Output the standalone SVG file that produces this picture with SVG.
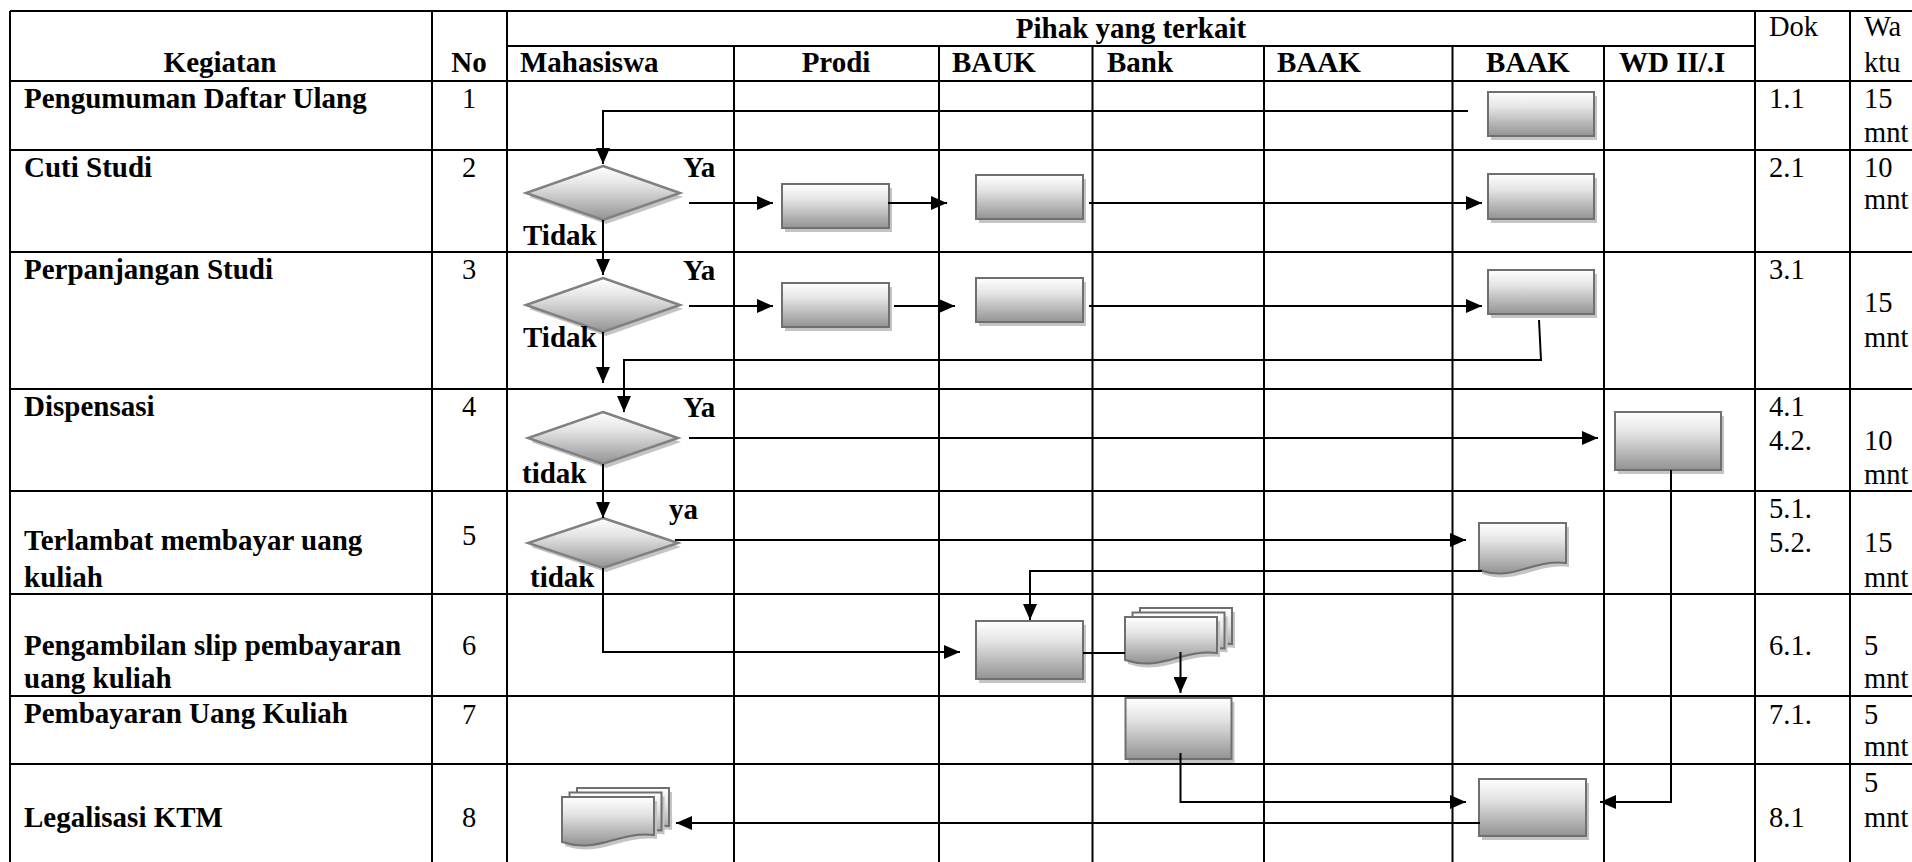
<svg xmlns="http://www.w3.org/2000/svg" width="1912" height="862" viewBox="0 0 1912 862">
  <style>
    .grid line { stroke: #000; stroke-width: 2; }
    .conn path { fill: none; stroke: #000; stroke-width: 2; }
    .arr { marker-end: url(#ah); }
    .box { fill: url(#shade); stroke: #6f6f6f; stroke-width: 2; }
    .dia { fill: url(#shade); stroke: #808080; stroke-width: 2.5; }
    .shd { fill: #c4c4c4; }
    text { font-family: "Liberation Serif", "Times New Roman", serif; fill: #000; }
    .b { font-weight: bold; font-size: 29px; }
    .r { font-size: 28.5px; }
    .c { text-anchor: middle; }
  </style>
  <defs>
    <linearGradient id="shade" x1="0" y1="0" x2="0" y2="1">
      <stop offset="0" stop-color="#ffffff"/>
      <stop offset="0.35" stop-color="#e4e4e4"/>
      <stop offset="1" stop-color="#939393"/>
    </linearGradient>
    <marker id="ah" markerUnits="userSpaceOnUse" viewBox="0 0 16 14" markerWidth="16" markerHeight="14" refX="16" refY="7" orient="auto">
      <path d="M0,0 L16,7 L0,14 Z" fill="#000"/>
    </marker>
  </defs>
  <rect width="1912" height="862" fill="#fff"/>

  <!-- table grid -->
  <g id="grid" class="grid">
    <line x1="10" y1="11" x2="1912" y2="11"/>
    <line x1="507" y1="46" x2="1755" y2="46"/>
    <line x1="10" y1="81" x2="1912" y2="81"/>
    <line x1="10" y1="150" x2="1912" y2="150"/>
    <line x1="10" y1="252" x2="1912" y2="252"/>
    <line x1="10" y1="389" x2="1912" y2="389"/>
    <line x1="10" y1="491" x2="1912" y2="491"/>
    <line x1="10" y1="594" x2="1912" y2="594"/>
    <line x1="10" y1="696" x2="1912" y2="696"/>
    <line x1="10" y1="764" x2="1912" y2="764"/>
    <line x1="10" y1="11" x2="10" y2="862"/>
    <line x1="432" y1="11" x2="432" y2="862"/>
    <line x1="507" y1="11" x2="507" y2="862"/>
    <line x1="734" y1="46" x2="734" y2="862"/>
    <line x1="939" y1="46" x2="939" y2="862"/>
    <line x1="1092.5" y1="46" x2="1092.5" y2="862"/>
    <line x1="1264" y1="46" x2="1264" y2="862"/>
    <line x1="1452.5" y1="46" x2="1452.5" y2="862"/>
    <line x1="1604" y1="46" x2="1604" y2="862"/>
    <line x1="1755" y1="11" x2="1755" y2="862"/>
    <line x1="1850" y1="11" x2="1850" y2="862"/>
  </g>

  <!-- table headings -->
  <g id="headings">
    <text class="b c" x="220" y="72">Kegiatan</text>
    <text class="b c" x="469" y="72">No</text>
    <text class="b c" x="1131" y="38">Pihak yang terkait</text>
    <text class="b" x="520" y="72">Mahasiswa</text>
    <text class="b c" x="836" y="72">Prodi</text>
    <text class="b" x="952" y="72">BAUK</text>
    <text class="b" x="1107" y="72">Bank</text>
    <text class="b" x="1277" y="72">BAAK</text>
    <text class="b c" x="1528" y="72">BAAK</text>
    <text class="b" x="1619" y="72">WD II/.I</text>
    <text class="r" x="1769" y="36">Dok</text>
    <text class="r" x="1864" y="36">Wa</text>
    <text class="r" x="1864" y="72">ktu</text>
  </g>

  <!-- activities and numbers -->
  <g id="activities">
    <text class="b" x="24" y="108">Pengumuman Daftar Ulang</text>
    <text class="b" x="24" y="177">Cuti Studi</text>
    <text class="b" x="24" y="279">Perpanjangan Studi</text>
    <text class="b" x="24" y="416">Dispensasi</text>
    <text class="b" x="24" y="550">Terlambat membayar uang</text>
    <text class="b" x="24" y="587">kuliah</text>
    <text class="b" x="24" y="655">Pengambilan slip pembayaran</text>
    <text class="b" x="24" y="688">uang kuliah</text>
    <text class="b" x="24" y="723">Pembayaran Uang Kuliah</text>
    <text class="b" x="24" y="827">Legalisasi KTM</text>
    <text class="r c" x="469" y="108">1</text>
    <text class="r c" x="469" y="177">2</text>
    <text class="r c" x="469" y="279">3</text>
    <text class="r c" x="469" y="416">4</text>
    <text class="r c" x="469" y="545">5</text>
    <text class="r c" x="469" y="655">6</text>
    <text class="r c" x="469" y="724">7</text>
    <text class="r c" x="469" y="827">8</text>
  </g>

  <!-- document and time columns -->
  <g id="documents">
    <text class="r" x="1769" y="108">1.1</text>
    <text class="r" x="1769" y="177">2.1</text>
    <text class="r" x="1769" y="279">3.1</text>
    <text class="r" x="1769" y="416">4.1</text>
    <text class="r" x="1769" y="450">4.2.</text>
    <text class="r" x="1769" y="518">5.1.</text>
    <text class="r" x="1769" y="552">5.2.</text>
    <text class="r" x="1769" y="655">6.1.</text>
    <text class="r" x="1769" y="724">7.1.</text>
    <text class="r" x="1769" y="827">8.1</text>
    <text class="r" x="1864" y="108">15</text>
    <text class="r" x="1864" y="142">mnt</text>
    <text class="r" x="1864" y="177">10</text>
    <text class="r" x="1864" y="209">mnt</text>
    <text class="r" x="1864" y="312">15</text>
    <text class="r" x="1864" y="347">mnt</text>
    <text class="r" x="1864" y="450">10</text>
    <text class="r" x="1864" y="484">mnt</text>
    <text class="r" x="1864" y="552">15</text>
    <text class="r" x="1864" y="587">mnt</text>
    <text class="r" x="1864" y="655">5</text>
    <text class="r" x="1864" y="688">mnt</text>
    <text class="r" x="1864" y="724">5</text>
    <text class="r" x="1864" y="756">mnt</text>
    <text class="r" x="1864" y="792">5</text>
    <text class="r" x="1864" y="827">mnt</text>
  </g>

  <!-- flow nodes -->
  <g id="n-baak-1">
    <rect class="shd" x="1491" y="96" width="106" height="44"/>
    <rect class="box" x="1488" y="92" width="106" height="44"/>
  </g>
  <g id="d-cuti">
    <polygon class="shd" points="606,170 683,197 606,224 529,197"/>
    <polygon class="dia" points="603,166 680,193 603,220 526,193"/>
  </g>
  <g id="n-prodi-2">
    <rect class="shd" x="785" y="188" width="107" height="44"/>
    <rect class="box" x="782" y="184" width="107" height="44"/>
  </g>
  <g id="n-bauk-2">
    <rect class="shd" x="979" y="179" width="107" height="44"/>
    <rect class="box" x="976" y="175" width="107" height="44"/>
  </g>
  <g id="n-baak-2">
    <rect class="shd" x="1491" y="178" width="106" height="45"/>
    <rect class="box" x="1488" y="174" width="106" height="45"/>
  </g>
  <g id="d-perpanjangan">
    <polygon class="shd" points="606,282 683,309 606,336 529,309"/>
    <polygon class="dia" points="603,278 680,305 603,332 526,305"/>
  </g>
  <g id="n-prodi-3">
    <rect class="shd" x="785" y="287" width="107" height="44"/>
    <rect class="box" x="782" y="283" width="107" height="44"/>
  </g>
  <g id="n-bauk-3">
    <rect class="shd" x="979" y="282" width="107" height="44"/>
    <rect class="box" x="976" y="278" width="107" height="44"/>
  </g>
  <g id="n-baak-3">
    <rect class="shd" x="1491" y="274" width="106" height="44"/>
    <rect class="box" x="1488" y="270" width="106" height="44"/>
  </g>
  <g id="d-dispensasi">
    <polygon class="shd" points="606,416 681,442 606,468 531,442"/>
    <polygon class="dia" points="603,412 678,438 603,464 528,438"/>
  </g>
  <g id="n-wd-4">
    <rect class="shd" x="1618" y="416" width="106" height="58"/>
    <rect class="box" x="1615" y="412" width="106" height="58"/>
  </g>
  <g id="d-terlambat">
    <polygon class="shd" points="606,522 681,547 606,572 531,547"/>
    <polygon class="dia" points="603,518 678,543 603,568 528,543"/>
  </g>
  <g id="n-baak-5">
    <path class="shd" d="M1482,527 H1569 V567 C1534,563 1517,586 1482,574 Z"/>
    <path class="box" d="M1479,523 H1566 V563 C1531,559 1514,582 1479,570 Z"/>
  </g>
  <g id="n-bauk-6">
    <rect class="shd" x="979" y="625" width="107" height="58"/>
    <rect class="box" x="976" y="621" width="107" height="58"/>
  </g>
  <g id="n-bank-6">
    <path class="shd" d="M1143,612 H1235 V648 C1198,644 1180,667 1143,655 Z"/>
    <path class="box" d="M1140,608 H1232 V644 C1195,640 1177,663 1140,651 Z"/>
    <path class="shd" d="M1135.5,616.5 H1227.5 V652.5 C1190.5,648.5 1172.5,671.5 1135.5,659.5 Z"/>
    <path class="box" d="M1132.5,612.5 H1224.5 V648.5 C1187.5,644.5 1169.5,667.5 1132.5,655.5 Z"/>
    <path class="shd" d="M1128,621 H1220 V657 C1183,653 1165,676 1128,664 Z"/>
    <path class="box" d="M1125,617 H1217 V653 C1180,649 1162,672 1125,660 Z"/>
  </g>
  <g id="n-bank-7">
    <rect class="shd" x="1128.5" y="702" width="106" height="61"/>
    <rect class="box" x="1125.5" y="698" width="106" height="61"/>
  </g>
  <g id="n-baak-8">
    <rect class="shd" x="1482" y="783" width="107" height="57"/>
    <rect class="box" x="1479" y="779" width="107" height="57"/>
  </g>
  <g id="n-mahasiswa-8">
    <path class="shd" d="M580,792 H672 V830 C635,826 617,849 580,837 Z"/>
    <path class="box" d="M577,788 H669 V826 C632,822 614,845 577,833 Z"/>
    <path class="shd" d="M572.5,796.5 H664.5 V834.5 C627.5,830.5 609.5,853.5 572.5,841.5 Z"/>
    <path class="box" d="M569.5,792.5 H661.5 V830.5 C624.5,826.5 606.5,849.5 569.5,837.5 Z"/>
    <path class="shd" d="M565,801 H657 V839 C620,835 602,858 565,846 Z"/>
    <path class="box" d="M562,797 H654 V835 C617,831 599,854 562,842 Z"/>
  </g>

  <!-- connectors -->
  <g id="connectors" class="conn">
    <path class="arr" d="M1468,111 H603 V164"/>
    <path class="arr" d="M689,203 H773"/>
    <path class="arr" d="M888,203 H947"/>
    <path class="arr" d="M1089,203 H1482"/>
    <path class="arr" d="M603,220 V275"/>
    <path class="arr" d="M689,306 H773"/>
    <path class="arr" d="M894,306 H955"/>
    <path class="arr" d="M1089,306 H1482"/>
    <path class="arr" d="M1539,320 L1541,360 H624 V412"/>
    <path class="arr" d="M603,332 V383"/>
    <path class="arr" d="M689,438 H1598"/>
    <path class="arr" d="M603,464 V518"/>
    <path class="arr" d="M675,540 H1466"/>
    <path class="arr" d="M1482,571 H1030 V620"/>
    <path class="arr" d="M603,568 V652 H960"/>
    <path d="M1083,653 H1125"/>
    <path class="arr" d="M1180.5,652 V693"/>
    <path class="arr" d="M1180.5,753 V802 H1466"/>
    <path class="arr" d="M1671,470 V802 H1600"/>
    <path class="arr" d="M1480,823 H676"/>
  </g>

  <!-- decision labels -->
  <g id="labels">
    <text class="b" x="683" y="177">Ya</text>
    <text class="b" x="523" y="245">Tidak</text>
    <text class="b" x="683" y="280">Ya</text>
    <text class="b" x="523" y="347">Tidak</text>
    <text class="b" x="683" y="417">Ya</text>
    <text class="b" x="522" y="483">tidak</text>
    <text class="b" x="669" y="519">ya</text>
    <text class="b" x="530" y="587">tidak</text>
  </g>
</svg>
